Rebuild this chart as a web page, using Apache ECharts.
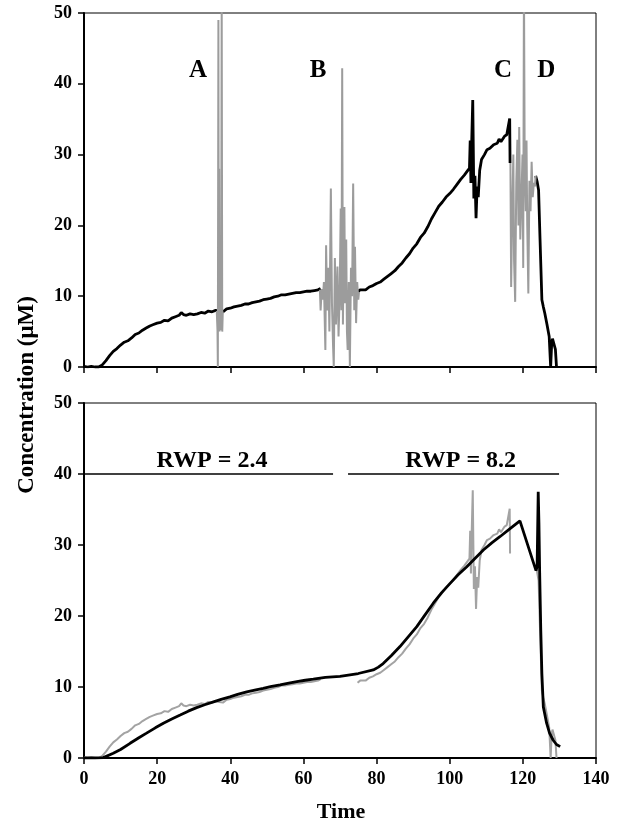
<!DOCTYPE html>
<html><head><meta charset="utf-8">
<script src="https://cdn.jsdelivr.net/npm/echarts@6/dist/echarts.min.js"></script>
<style>html,body{margin:0;padding:0;background:#fff}#c{width:623px;height:827px}</style>
</head><body><div id="c"></div>
<script>
// ---- data ----
const measured = [[0,0.1],[1,0],[2,0.1],[3,0],[4,0],[5,0.3],[6,0.9],[7,1.6],[8,2.2],[9,2.6],[10,3.1],[11,3.5],[12,3.7],[13,4.1],[14,4.6],[15,4.8],[16,5.2],[17,5.5],[18,5.8],[19,6.0],[20,6.2],[21,6.3],[22,6.6],[23,6.5],[24,6.9],[25,7.1],[26,7.3],[26.6,7.7],[27.2,7.4],[28,7.3],[29,7.5],[30,7.4],[31,7.5],[32,7.7],[33,7.6],[34,7.9],[35,7.8],[36,8.0],[37,7.9],[38,7.8],[39,8.2],[40,8.3],[41,8.5],[42,8.6],[43,8.7],[44,8.9],[45,8.9],[46,9.1],[47,9.2],[48,9.3],[49,9.5],[50,9.6],[51,9.7],[52,9.9],[53,10.0],[54,10.2],[55,10.2],[56,10.3],[57,10.4],[58,10.5],[59,10.5],[60,10.6],[61,10.7],[62,10.7],[63,10.8],[64,10.9],[64.7,11.1],[65,null],[74.8,10.6],[75.5,10.9],[76,11.0],[77,10.9],[78,11.3],[79,11.5],[80,11.8],[81,12.0],[82,12.4],[83,12.8],[84,13.2],[85,13.6],[86,14.2],[87,14.7],[88,15.4],[89,16.0],[90,16.8],[91,17.4],[92,18.3],[93,18.9],[94,19.8],[95,20.9],[96,21.8],[97,22.7],[98,23.3],[99,24.0],[100,24.5],[101,25.1],[102,25.8],[103,26.5],[104,27.1],[105,27.8],[105.4,28.1],[105.6,32],[105.8,26],[106.0,31.5],[106.3,37.7],[106.6,23.8],[106.9,27],[107.2,21],[107.5,25.5],[107.8,24],[108.2,27.8],[108.7,29.3],[109.5,30.0],[110.2,30.7],[111,30.9],[112,31.4],[113,31.6],[113.5,32.2],[114,31.8],[115,32.6],[115.6,32.8],[116.1,32.6],[116.4,35.1],[116.5,28.8],[117,null],[123.5,27.0],[123.9,26.2],[124.3,25.0],[124.7,18],[125.2,9.5],[125.6,8.5],[126,7.6],[126.6,6],[127.2,4.3],[127.6,0],[127.9,3.5],[128.1,4.0],[128.6,3.9],[128.9,2.5],[129.2,0]];

const outliers = [[36.3,7.9],[36.5,5.2],[36.6,0],[36.75,49],[36.85,5.5],[36.95,28],[37.05,5],[37.15,14],[37.25,5.2],[37.35,12],[37.5,5.3],[37.65,52],[37.8,5.0],[37.95,7.8],[38,null],
[64.5,10.9],[64.7,8.0],[65.0,11],[65.3,9.5],[65.6,12],[66.0,2.4],[66.2,17.2],[66.5,8],[66.8,14],[67.1,5],[67.5,25.2],[67.8,9],[68.1,3],[68.3,0],[68.6,15.4],[68.9,6],[69.3,14.2],[69.6,4.3],[69.9,10],[70.2,22.4],[70.4,8],[70.6,42.2],[70.8,6],[71.0,16],[71.2,22.6],[71.4,9],[71.7,18],[71.9,5],[72.1,2.4],[72.4,12],[72.7,0],[73.0,14],[73.3,10],[73.6,25.9],[73.9,8],[74.1,17],[74.4,6.2],[74.7,12],[75.0,9.5],[75.2,10.6],[76,null],
[116.6,28.8],[116.8,11.3],[117.1,22],[117.4,30],[117.6,15],[117.9,9.2],[118.2,26],[118.5,32.1],[118.8,20],[119.0,33.9],[119.3,18],[119.6,23.6],[119.9,30],[120.1,14],[120.3,55],[120.5,28.7],[120.8,22],[121.0,32],[121.2,20],[121.5,10.4],[121.8,26.3],[122.1,22],[122.4,29],[122.7,24],[123.0,26],[123.3,25.5],[123.5,27.0]];

const model = [[0,0],[3,0],[5.3,0.05],[8,0.66],[10,1.2],[12.6,2.07],[15,2.85],[17.1,3.5],[19.5,4.25],[21.7,4.9],[24,5.5],[26.3,6.06],[28.5,6.6],[30.8,7.1],[33,7.5],[35.4,7.9],[37.5,8.25],[39.9,8.6],[42,8.95],[44.5,9.3],[47,9.6],[49,9.8],[51,10.05],[53.6,10.3],[56,10.55],[58.2,10.75],[60.5,10.95],[62.7,11.1],[66,11.35],[70,11.5],[75,11.9],[79.1,12.4],[80.5,12.8],[81.8,13.3],[84,14.4],[86.4,15.7],[88.7,17.1],[91,18.5],[93.3,20.2],[95.5,21.8],[97.8,23.3],[100.1,24.6],[102.3,25.8],[104.6,26.9],[106.9,28.1],[109.2,29.3],[111.5,30.3],[113.8,31.2],[116.5,32.3],[119.2,33.4],[123.6,26.4],[123.9,27],[124.2,37.5],[124.4,33],[124.6,26.0],[124.9,18],[125.2,11.9],[125.6,7.2],[126.5,4.9],[127.3,3.5],[128.3,2.5],[129.2,1.9],[130.2,1.6]];

const rwpLine1 = [[0,40],[68.1,40]];
const rwpLine2 = [[72.2,40],[129.9,40]];
const rwpLabels = [[35,41.9,'RWP = 2.4'],[103,41.9,'RWP = 8.2']];
const eventLabels = [[31.2,41.9,'A'],[64,41.9,'B'],[114.6,41.9,'C'],[126.4,41.9,'D']];
const xMin = 0, xMax = 140, xStep = 20;
const yMin = 0, yMax = 50, yStep = 10;
const yTitle = 'Concentration (\u03bcM)';
const xTitle = 'Time';

// ---- chart ----
const FONT = '"Liberation Serif","Times New Roman",serif';
const chart = echarts.init(document.getElementById('c'));
function xAxis(idx, labels){
  return {type:'value', gridIndex:idx, min:xMin, max:xMax, interval:xStep,
    axisLine:{show:true, onZero:false, lineStyle:{color:'#000', width:2}},
    axisTick:{show:true, inside:false, length:6, lineStyle:{color:'#000', width:1.5}},
    axisLabel:{show:labels, color:'#000', fontFamily:FONT, fontWeight:'bold', fontSize:18, margin:12},
    splitLine:{show:false}};
}
function yAxis(idx){
  return {type:'value', gridIndex:idx, min:yMin, max:yMax, interval:yStep,
    axisLine:{show:true, onZero:false, lineStyle:{color:'#000', width:2}},
    axisTick:{show:true, inside:false, length:6, lineStyle:{color:'#000', width:1.5}},
    axisLabel:{color:'#000', fontFamily:FONT, fontWeight:'bold', fontSize:18, margin:12},
    splitLine:{show:false}};
}
chart.setOption({
  animation:false,
  backgroundColor:'#fff',
  grid:[
    {left:84, top:13, width:512, height:354, show:true, borderColor:'#000', borderWidth:1},
    {left:84, top:403, width:512, height:355, show:true, borderColor:'#000', borderWidth:1}
  ],
  xAxis:[xAxis(0,false), xAxis(1,true)],
  yAxis:[yAxis(0), yAxis(1)],
  series:[
    {type:'line', xAxisIndex:0, yAxisIndex:0, data:measured, showSymbol:false, clip:true,
      lineStyle:{color:'#000', width:2.8}, z:3},
    {type:'line', xAxisIndex:0, yAxisIndex:0, data:outliers, showSymbol:false, clip:true,
      lineStyle:{color:'#9c9c9c', width:2}, z:4},
    {type:'line', xAxisIndex:1, yAxisIndex:1, data:measured, showSymbol:false, clip:true,
      lineStyle:{color:'#a3a3a3', width:2}, z:3},
    {type:'line', xAxisIndex:1, yAxisIndex:1, data:model, showSymbol:false, clip:true,
      lineStyle:{color:'#000', width:2.8}, z:4},
    {type:'line', xAxisIndex:1, yAxisIndex:1, data:rwpLine1, showSymbol:false,
      lineStyle:{color:'#000', width:1.3}, z:4},
    {type:'line', xAxisIndex:1, yAxisIndex:1, data:rwpLine2, showSymbol:false,
      lineStyle:{color:'#000', width:1.3}, z:4}
  ]
});
const graphics = [
  {type:'text', x:27, y:395, rotation:Math.PI/2,
    style:{text:yTitle, fill:'#000', font:'bold 23px '+FONT, textAlign:'center', textVerticalAlign:'middle'}},
  {type:'text', x:341, y:812,
    style:{text:xTitle, fill:'#000', font:'bold 22px '+FONT, textAlign:'center', textVerticalAlign:'middle'}}
];
eventLabels.forEach(d=>{
  const p = chart.convertToPixel({gridIndex:0}, [d[0], d[1]]);
  graphics.push({type:'text', x:p[0], y:p[1], z:20,
    style:{text:d[2], fill:'#000', font:'bold 25px '+FONT, textAlign:'center', textVerticalAlign:'middle'}});
});
rwpLabels.forEach(d=>{
  const p = chart.convertToPixel({gridIndex:1}, [d[0], d[1]]);
  graphics.push({type:'text', x:p[0], y:p[1], z:20,
    style:{text:d[2], fill:'#000', font:'bold 24px '+FONT, textAlign:'center', textVerticalAlign:'middle'}});
});
chart.setOption({graphic:graphics});
</script>
</body></html>
